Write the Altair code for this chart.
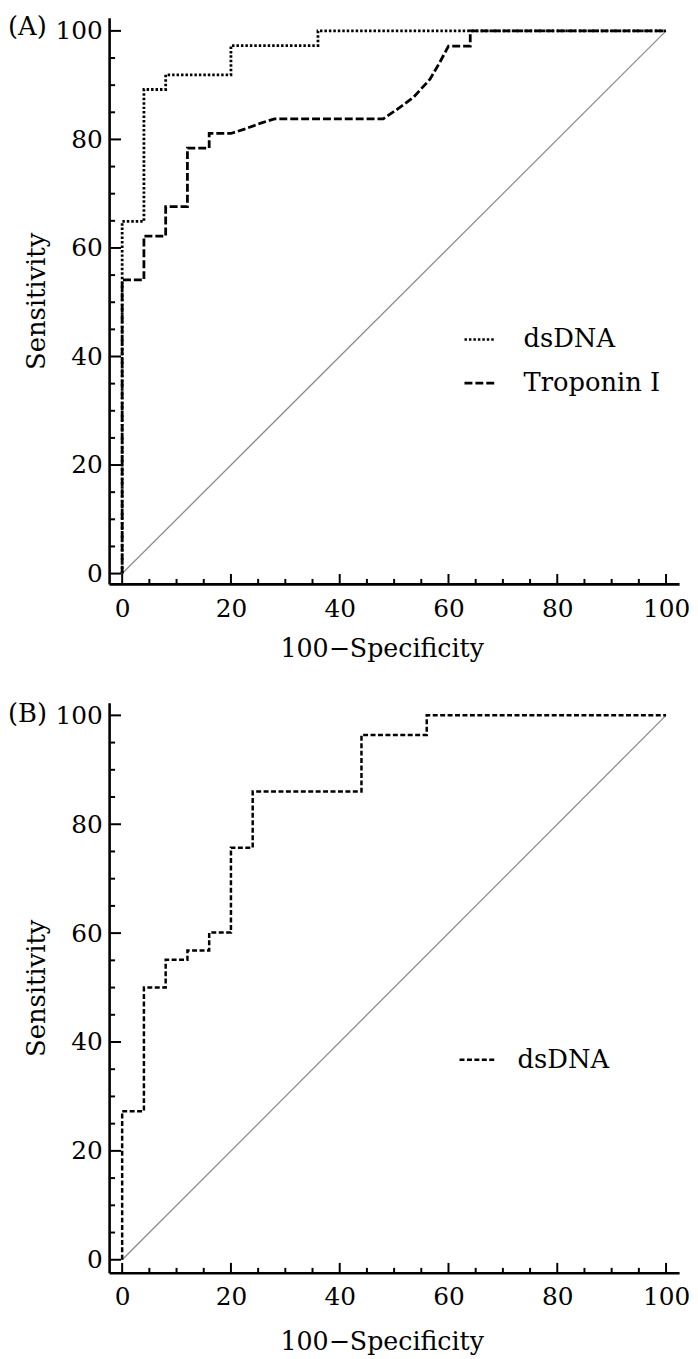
import altair as alt
import pandas as pd

FONT = "DejaVu Serif"

# ---------------- data ----------------
# Panel A : dsDNA (dotted)
a_dsdna_x = [0, 0, 4, 4, 8, 8, 20, 20, 36, 36, 100]
a_dsdna_y = [0, 64.9, 64.9, 89.2, 89.2, 91.9, 91.9, 97.3, 97.3, 100, 100]
# Panel A : Troponin I (dashed)
a_trop_x = [0, 0, 4, 4, 8, 8, 12, 12, 16, 16, 20, 22.5, 25.5, 28, 48, 50.5, 53.6, 56.6, 58.4, 60, 64, 64, 100]
a_trop_y = [0, 54.1, 54.1, 62.2, 62.2, 67.6, 67.6, 78.4, 78.4, 81.1, 81.1, 81.9, 83.0, 83.8, 83.8, 85.5, 87.8, 91.1, 94.2, 97.2, 97.2, 100, 100]
# Panel B : dsDNA (short dashes)
b_dsdna_x = [0, 0, 4, 4, 8, 8, 12, 12, 16, 16, 20, 20, 24, 24, 44, 44, 56, 56, 100]
b_dsdna_y = [0, 27.3, 27.3, 50, 50, 55.1, 55.1, 56.8, 56.8, 60.1, 60.1, 75.7, 75.7, 86, 86, 96.4, 96.4, 100, 100]

diag_vals = [0, 100]
major_ticks = [0, 20, 40, 60, 80, 100]
minor_ticks = [5, 10, 15, 25, 30, 35, 45, 50, 55, 65, 70, 75, 85, 90, 95]

W = 575


def curve_df(xs, ys, name):
    return pd.DataFrame({"x": xs, "y": ys, "series": name, "i": list(range(len(xs)))})


def panel(curves, dash_domain, dash_range, line_w, ydom, H, label, lx, ly,
          sym_len, lab_off, row_pad, x_lab_pad, x_title_y):
    xs = alt.Scale(domain=[-2.4, 102.4], nice=False, zero=False)
    ys = alt.Scale(domain=ydom, nice=False, zero=False)
    xaxis = alt.Axis(values=major_ticks, ticks=False, tickSize=0, grid=False,
                     domainColor="black", domainWidth=2.6, labelFont=FONT,
                     labelFontSize=25, labelColor="black", labelPadding=x_lab_pad,
                     labelFlush=False, labelOverlap=False,
                     titleFont=FONT, titleFontSize=25.5, titleFontWeight="normal",
                     titleColor="black", titleY=x_title_y, titleX=275)
    yaxis = alt.Axis(values=major_ticks, ticks=False, tickSize=0, grid=False,
                     domainColor="black", domainWidth=2.6, labelFont=FONT,
                     labelFontSize=25, labelColor="black", labelPadding=7,
                     labelFlush=False, labelOverlap=False,
                     titleFont=FONT, titleFontSize=26, titleFontWeight="normal",
                     titleColor="black", titleX=-60)

    def X(f="x"):
        return alt.X(f"{f}:Q", scale=xs, axis=xaxis, title="100\u2212Specificity")

    def Y(f="y"):
        return alt.Y(f"{f}:Q", scale=ys, axis=yaxis, title="Sensitivity")

    diag = alt.Chart(pd.DataFrame({"x": diag_vals, "y": diag_vals})).mark_line(
        color="#8c8c8c", strokeWidth=1.3).encode(x=X(), y=Y())

    df = pd.concat(curves, ignore_index=True)
    lines = alt.Chart(df).mark_line(color="black", strokeWidth=line_w).encode(
        x=X(), y=Y(), order="i:Q",
        strokeDash=alt.StrokeDash(
            "series:N",
            scale=alt.Scale(domain=dash_domain, range=dash_range),
            legend=alt.Legend(orient="none", legendX=lx, legendY=ly, title=None,
                              symbolType="stroke", symbolSize=sym_len ** 2,
                              symbolStrokeWidth=2.6, symbolStrokeColor="black",
                              labelFont=FONT, labelFontSize=26, labelColor="black",
                              labelOffset=lab_off, rowPadding=row_pad, padding=0,
                              labelLimit=300)))

    xmaj = alt.Chart(pd.DataFrame({"x": major_ticks})).mark_rule(
        color="black", strokeWidth=2).encode(x=X(), y=alt.value(H), y2=alt.value(H - 10))
    xmin = alt.Chart(pd.DataFrame({"x": minor_ticks})).mark_rule(
        color="black", strokeWidth=2).encode(x=X(), y=alt.value(H), y2=alt.value(H - 5))
    ymaj = alt.Chart(pd.DataFrame({"y": major_ticks})).mark_rule(
        color="black", strokeWidth=2).encode(y=Y(), x=alt.value(0), x2=alt.value(12))
    ymin = alt.Chart(pd.DataFrame({"y": minor_ticks})).mark_rule(
        color="black", strokeWidth=2).encode(y=Y(), x=alt.value(0), x2=alt.value(6))

    tag = alt.Chart(pd.DataFrame({"lab": [label]})).mark_text(
        align="left", baseline="top", font=FONT, fontSize=26, color="black").encode(
        x=alt.value(-102), y=alt.value(-4 if label == "(A)" else -2), text="lab:N")

    return alt.layer(diag, lines, xmaj, xmin, ymaj, ymin, tag).properties(width=W, height=H)


top = panel(
    [curve_df(a_dsdna_x, a_dsdna_y, "dsDNA"), curve_df(a_trop_x, a_trop_y, "Troponin I")],
    ["dsDNA", "Troponin I"], [[2.5, 2], [8, 3]], 2.8,
    [-1.9, 102.4], 571, "(A)", 357, 308, 30, 28, 14, 13, 53)

bottom = panel(
    [curve_df(b_dsdna_x, b_dsdna_y, "dsDNA")],
    ["dsDNA"], [[5, 2.5]], 2.5,
    [-2.4, 102.3], 575, "(B)", 352, 341, 35, 22, 14, 11.5, 57)

chart = alt.vconcat(top, bottom, spacing=39).resolve_scale(
    strokeDash="independent").resolve_legend(strokeDash="independent").properties(
    padding=0).configure_view(stroke=None)

chart.save("out.html", embed_options={"renderer": "svg", "actions": False})
